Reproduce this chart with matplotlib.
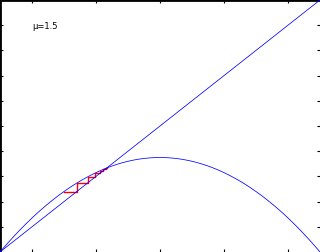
import numpy as np
import matplotlib
matplotlib.use("Agg")
import matplotlib.pyplot as plt

mu = 1.5
x_start = 0.2
n_iter = 30
label = "μ=1.5"
xticks = [0.1, 0.3, 0.5, 0.7, 0.9]
yticks = [0.1, 0.2, 0.3, 0.4, 0.5, 0.6, 0.7, 0.8, 0.9]

xs = np.linspace(0, 1, 400)
parabola = mu * xs * (1 - xs)

# cobweb
cx, cy = [], []
x = x_start
y = mu * x * (1 - x)
cx.append(x); cy.append(y)
for _ in range(n_iter):
    cx.append(y); cy.append(y)
    x = y
    y = mu * x * (1 - x)
    cx.append(x); cy.append(y)

fig = plt.figure(figsize=(3.2, 2.52), dpi=100)
ax = fig.add_axes([0, 0, 1, 1])
ax.plot(cx, cy, color="#ff0000", lw=1.0, zorder=2)
ax.plot(xs, parabola, color="#0000ff", lw=0.55, zorder=3)
ax.plot(xs, xs, color="#0000ff", lw=0.55, zorder=3)
ax.set_xlim(0, 1)
ax.set_ylim(0, 1)
ax.set_xticks(xticks)
ax.set_yticks(yticks)
ax.tick_params(direction="in", length=2.5, width=0.8, top=True, right=True,
               labelbottom=False, labelleft=False)
ax.spines["right"].set_visible(False)
ax.spines["bottom"].set_visible(False)
ax.spines["left"].set_linewidth(2)
ax.spines["top"].set_linewidth(2)
ax.text(0.1, 0.893, label, fontsize=6, va="center", ha="left", color="black")
fig.savefig("out.png", dpi=100)
